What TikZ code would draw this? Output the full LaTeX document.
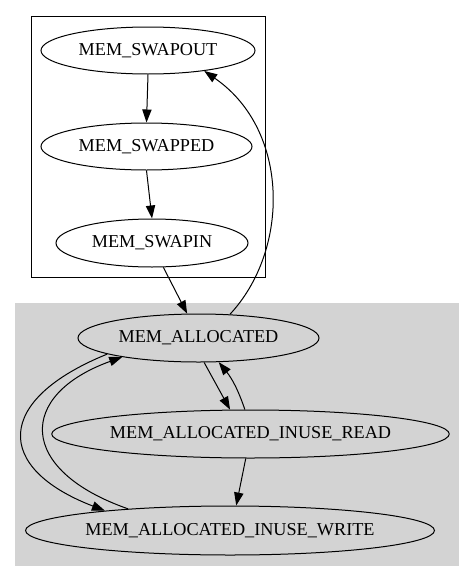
\documentclass[tikz,border=0pt]{standalone}
\usepackage{fontspec}
\setmainfont{Liberation Serif}
\usetikzlibrary{shapes.geometric,arrows.meta}
\definecolor{memGrey}{RGB}{211,211,211}
\begin{document}
\begin{tikzpicture}[
    x=1pt, y=-1pt,
    memStateStyle/.style={ellipse, draw, line width=1pt, inner sep=0pt,
        font=\fontsize{18.2}{22}\selectfont},
    memEdgeStyle/.style={line width=1pt, -{Triangle[length=13pt,width=9.3pt]}},
    memSwapBoxStyle/.style={draw, line width=1pt},
    memAllocBoxStyle/.style={fill=memGrey}
]
    \useasboundingbox (0,0) rectangle (475,581);

    % 子图
    \fill[memAllocBoxStyle] (15,303) rectangle (459,566);
    \draw[memSwapBoxStyle] (31,16) rectangle (265,277);

    % 状态
    \node[memStateStyle, minimum width=214pt, minimum height=47pt] (swapout) at (148,50.5) {MEM\_SWAPOUT};
    \node[memStateStyle, minimum width=211pt, minimum height=47pt] (swapped) at (146.5,146.5) {MEM\_SWAPPED};
    \node[memStateStyle, minimum width=192pt, minimum height=48pt] (swapin) at (152,243) {MEM\_SWAPIN};
    \node[memStateStyle, minimum width=241pt, minimum height=48pt] (alloc) at (198.5,338) {MEM\_ALLOCATED};
    \node[memStateStyle, minimum width=397pt, minimum height=48pt] (read) at (250.5,434) {MEM\_ALLOCATED\_INUSE\_READ};
    \node[memStateStyle, minimum width=408pt, minimum height=49pt] (write) at (230,530.5) {MEM\_ALLOCATED\_INUSE\_WRITE};

    % 转换
    \draw[memEdgeStyle] (swapout.south) -- (swapped.north);
    \draw[memEdgeStyle] (swapped.south) -- (swapin.north);
    \draw[memEdgeStyle] (swapin.-65) -- (alloc.115.7);
    \draw[memEdgeStyle] (alloc.37) .. controls (290,250) and (290,130) .. (swapout.-20);
    \draw[memEdgeStyle] (alloc.-77) -- (read.130.6);
    \draw[memEdgeStyle] (read.103) to[bend right=10] (alloc.-50.6);
    \draw[memEdgeStyle] (read.259) -- (write.76);
    \draw[memEdgeStyle] (alloc.190.4) .. controls (-6,400) and (-6,468) .. (write.171);
    \draw[memEdgeStyle] (write.168.8) .. controls (17,470) and (17,395) .. (alloc.194.5);
\end{tikzpicture}
\end{document}
